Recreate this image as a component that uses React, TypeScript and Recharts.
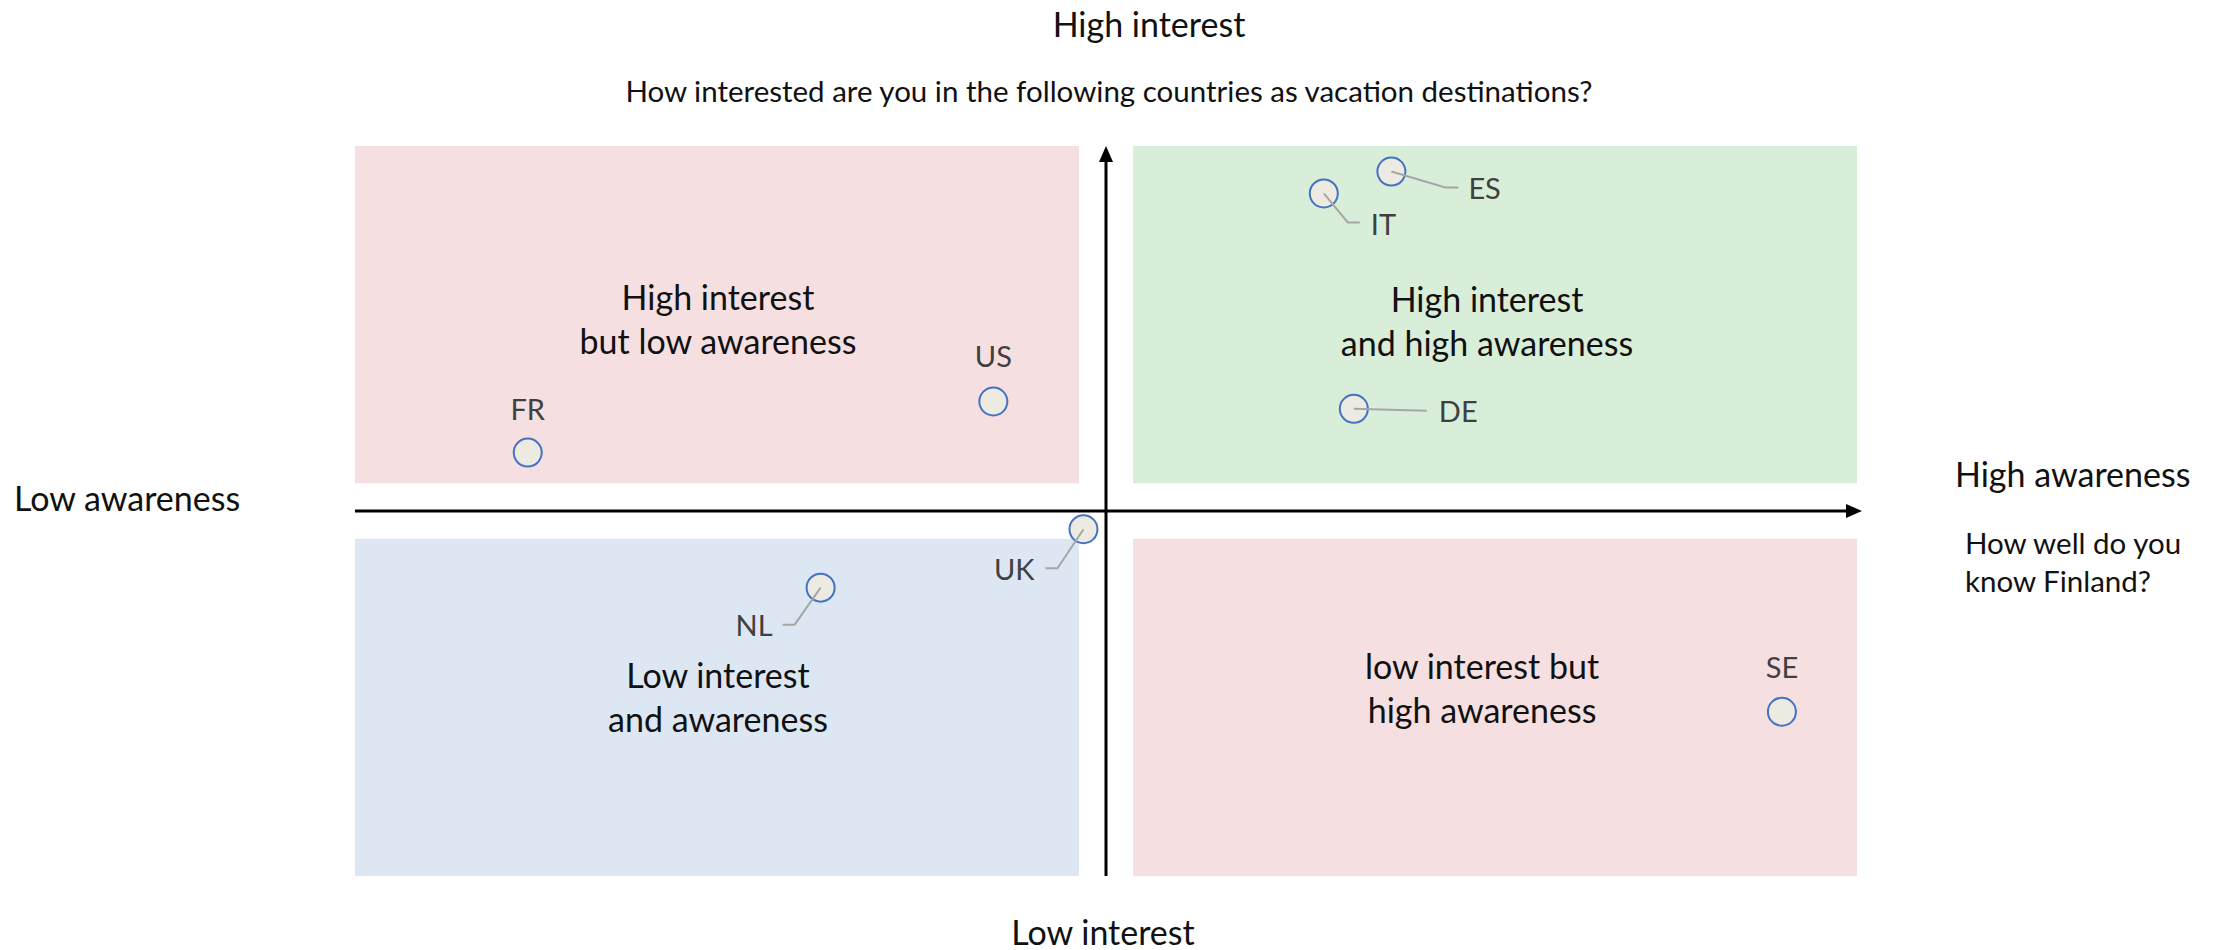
import React from 'react';
import { ScatterChart, Scatter, XAxis, YAxis, ReferenceArea, ReferenceLine } from 'recharts';

// country codes and their scores (awareness = x, interest = y), centred on 0
const COUNTRIES = ['FR', 'US', 'IT', 'ES', 'DE', 'UK', 'NL', 'SE'];
const AWARENESS = [-7.7, -1.5, 2.9, 3.8, 3.3, -0.3, -3.8, 9.0];
const INTEREST = [1.6, 3.0, 8.7, 9.3, 2.8, -0.5, -2.1, -5.5];

const QUADRANT_TITLES = [
    ['High interest', 'but low awareness'],
    ['High interest', 'and high awareness'],
    ['Low interest', 'and awareness'],
    ['low interest but', 'high awareness'],
];

const FONT = "Lato, 'Open Sans', sans-serif";
const DOMAIN: [number, number] = [-10, 10];
const GAP_X = 0.36;
const GAP_Y = 0.76;

// quadrant boxes + where their titles sit (pixel nudges from the box centre)
const QUADRANTS = [
    { x1: -10, x2: -GAP_X, y1: GAP_Y, y2: 10, fill: '#f6dfe1', dx: 1, dy: 9 },
    { x1: GAP_X, x2: 10, y1: GAP_Y, y2: 10, fill: '#d9eed9', dx: -8, dy: 11 },
    { x1: -10, x2: -GAP_X, y1: -10, y2: -GAP_Y, fill: '#dde7f4', dx: 1, dy: -6 },
    { x1: GAP_X, x2: 10, y1: -10, y2: -GAP_Y, fill: '#f6dfe1', dx: -13, dy: -15 },
];

type LabelLayout = { dx: number; dy: number; anchor: 'start' | 'middle' | 'end'; leader?: [number, number][] };
const LABEL_LAYOUT: Record<string, LabelLayout> = {
    FR: { dx: 0, dy: -40, anchor: 'middle' },
    US: { dx: 0, dy: -42, anchor: 'middle' },
    SE: { dx: 0, dy: -41, anchor: 'middle' },
    IT: { dx: 47, dy: 34, anchor: 'start', leader: [[24, 29], [36, 29]] },
    ES: { dx: 77, dy: 20, anchor: 'start', leader: [[54, 16], [67, 16]] },
    DE: { dx: 85, dy: 6, anchor: 'start', leader: [[73, 2]] },
    UK: { dx: -49, dy: 43, anchor: 'end', leader: [[-26, 39], [-38, 39]] },
    NL: { dx: -48, dy: 41, anchor: 'end', leader: [[-26, 37], [-38, 37]] },
};

const points = COUNTRIES.map((c, i) => ({ code: c, x: AWARENESS[i], y: INTEREST[i] }));

const CountryDot = (props: any) => {
    const { cx, cy, payload } = props;
    const lay = LABEL_LAYOUT[payload.code];
    const path = lay.leader ? [[0, 0], ...lay.leader].map(([a, b], i) => `${i ? 'L' : 'M'}${cx + a},${cy + b}`).join(' ') : null;
    return (
        <g>
            <circle cx={cx} cy={cy} r={14} fill="#edebe1" stroke="#4472c4" strokeWidth={2} />
            {path && <path d={path} fill="none" stroke="#a6a6a6" strokeWidth={2} />}
            <text x={cx + lay.dx} y={cy + lay.dy} textAnchor={lay.anchor} dominantBaseline="middle"
                fontFamily={FONT} fontSize={29} fill="#404040">{payload.code}</text>
        </g>
    );
};

const quadLabel = (lines: string[], dx: number, dy: number) => (props: any) => {
    const vb = props.viewBox || {};
    const cx = vb.x + vb.width / 2 + dx;
    const cy = vb.y + vb.height / 2 + dy;
    return (
        <text textAnchor="middle" fontFamily={FONT} fontSize={34} fill="#111">
            <tspan x={cx} y={cy - 22} dominantBaseline="middle">{lines[0]}</tspan>
            <tspan x={cx} y={cy + 22} dominantBaseline="middle">{lines[1]}</tspan>
        </text>
    );
};

const ArrowAxis = (props: any) => {
    const { x1, y1, x2, y2 } = props;
    if (x1 === x2) {
        const top = Math.min(y1, y2);
        const bot = Math.max(y1, y2);
        return (
            <g>
                <line x1={x1} y1={top + 12} x2={x1} y2={bot} stroke="#000" strokeWidth={3} />
                <polygon points={`${x1},${top} ${x1 - 7},${top + 16} ${x1 + 7},${top + 16}`} fill="#000" />
            </g>
        );
    }
    const l = Math.min(x1, x2);
    const r = Math.max(x1, x2) + 5;
    return (
        <g>
            <line x1={l} y1={y1} x2={r - 12} y2={y1} stroke="#000" strokeWidth={3} />
            <polygon points={`${r},${y1} ${r - 16},${y1 - 7} ${r - 16},${y1 + 7}`} fill="#000" />
        </g>
    );
};

const txt = (s: string, left: number, top: number, size: number, width = 600, align: 'center' | 'left' = 'center') => (
    <div style={{ position: 'absolute', left, top, width, textAlign: align, fontFamily: FONT, fontSize: size, lineHeight: `${size + 4}px`, color: '#111', whiteSpace: 'nowrap' }}>{s}</div>
);

export default function App() {
    return (
        <div style={{ position: 'absolute', left: 0, top: 0, width: 2218, height: 950, background: '#fff' }}>
            <ScatterChart width={2218} height={950} margin={{ top: 146, right: 361, bottom: 74, left: 355 }}>
                <XAxis type="number" dataKey="x" domain={DOMAIN} hide />
                <YAxis type="number" dataKey="y" domain={DOMAIN} hide />
                {QUADRANTS.map((q, i) => (
                    <ReferenceArea key={i} x1={q.x1} x2={q.x2} y1={q.y1} y2={q.y2} fill={q.fill} fillOpacity={1}
                        stroke="none" label={quadLabel(QUADRANT_TITLES[i], q.dx, q.dy)} />
                ))}
                <ReferenceLine y={0} shape={ArrowAxis} />
                <ReferenceLine x={0} shape={ArrowAxis} />
                <Scatter data={points} shape={CountryDot} isAnimationActive={false} />
            </ScatterChart>
            {txt('High interest', 1149 - 300, 24 - 19, 34)}
            {txt('How interested are you in the following countries as vacation destinations?', 1109 - 600, 91 - 17, 29.5, 1200)}
            {txt('Low interest', 1103 - 300, 932 - 19, 34)}
            {txt('Low awareness', 14, 498 - 19, 34, 400, 'left')}
            {txt('High awareness', 1955, 474 - 19, 34, 300, 'left')}
            {txt('How well do you', 1965, 543 - 17, 29.5, 250, 'left')}
            {txt('know Finland?', 1965, 581 - 17, 29.5, 250, 'left')}
        </div>
    );
}
